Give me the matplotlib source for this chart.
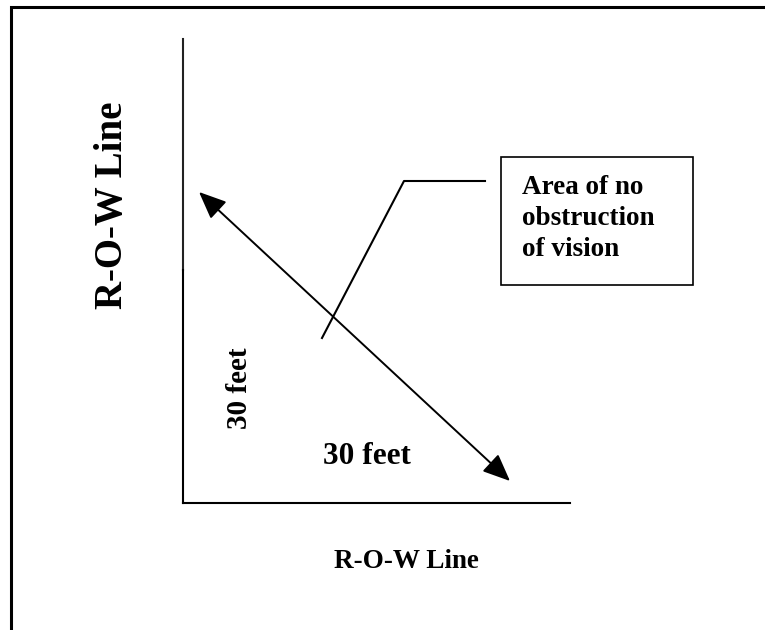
import matplotlib
matplotlib.use("Agg")
import matplotlib.pyplot as plt
from matplotlib.patches import Rectangle, FancyArrowPatch

W, H = 765, 630
# geometry (pixel coordinates, y downwards)
frame_x = [11, 11, 765]
frame_y = [630, 6.5, 6.5]
row_v_upper_x = [183.5, 183.5]
row_v_upper_y = [39, 270]
row_v_lower_x = [183, 183]
row_v_lower_y = [270, 503]
row_h_x = [183, 570]
row_h_y = [503, 503]
arrow_start = (199, 192)
arrow_end = (510, 481)
callout_x = [322, 404, 485]
callout_y = [338, 181, 181]
box_xy = (501, 157)
box_w, box_h = 192, 128

label_left = "R-O-W Line"
label_bottom = "R-O-W Line"
dist_label = "30 feet"
box_lines = ["Area of no", "obstruction", "of vision"]

fig = plt.figure(figsize=(W / 100, H / 100), dpi=100)
ax = fig.add_axes([0, 0, 1, 1])
ax.set_xlim(0, W)
ax.set_ylim(H, 0)
ax.axis("off")

ax.plot(frame_x, frame_y, color="black", lw=2.2, solid_joinstyle="miter")
ax.plot(row_v_upper_x, row_v_upper_y, color="#222222", lw=1.5)
ax.plot(row_v_lower_x, row_v_lower_y, color="black", lw=1.5)
ax.plot(row_h_x, row_h_y, color="black", lw=1.5)
ax.plot(callout_x, callout_y, color="black", lw=1.5)
ax.add_patch(Rectangle(box_xy, box_w, box_h, fill=False, edgecolor="black", lw=1.2))

arr = FancyArrowPatch(arrow_start, arrow_end, arrowstyle="<|-|>,head_length=14,head_width=6",
                      mutation_scale=1.2, color="black", lw=1.4, shrinkA=0, shrinkB=0)
ax.add_patch(arr)

font = dict(family="Liberation Serif", weight="bold", color="black")
ax.text(113, 205, label_left, rotation=90, ha="center", va="center", fontsize=28, **font)
ax.text(406, 562, label_bottom, ha="center", va="center", fontsize=19.5, **font)
ax.text(367, 456, dist_label, ha="center", va="center", fontsize=22.5, **font)
ax.text(240, 388, dist_label, rotation=90, ha="center", va="center", fontsize=21, **font)
for i, line in enumerate(box_lines):
    ax.text(522, 187 + 31.5 * i, line, ha="left", va="center", fontsize=19.5, **font)

fig.savefig("out.png", dpi=100)
